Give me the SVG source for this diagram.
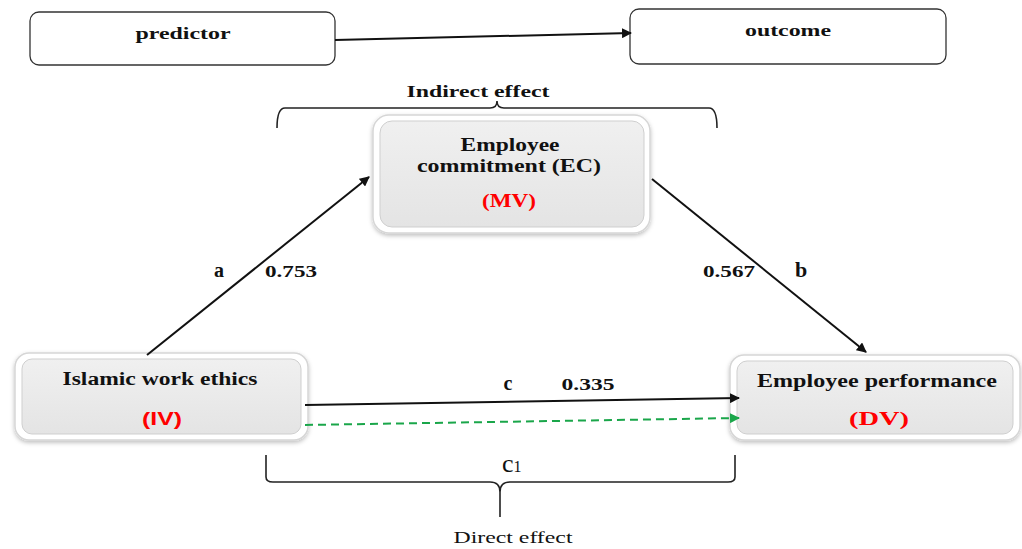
<svg xmlns="http://www.w3.org/2000/svg" width="1022" height="549" viewBox="0 0 1022 549">
<style>
.t{font-family:"Liberation Serif","Times New Roman",serif;font-weight:bold;fill:#111;text-anchor:middle}
.r{font-family:"Liberation Serif","Times New Roman",serif;font-weight:bold;fill:#ff0000;text-anchor:middle}
.n{font-family:"Liberation Serif","Times New Roman",serif;fill:#111;text-anchor:middle}
.box{fill:#fff;stroke:#333;stroke-width:1.3}
.outer{fill:#fff;stroke:#d6d6d6;stroke-width:1.5}
.inner{fill:url(#g);stroke:#cfcfcf;stroke-width:1}
.ln{stroke:#111;stroke-width:2;fill:none}
.br{stroke:#222;stroke-width:1.6;fill:none}
</style>
<defs>
<linearGradient id="g" x1="0" y1="0" x2="0" y2="1">
<stop offset="0" stop-color="#f0f0f0"/>
<stop offset="1" stop-color="#e4e4e4"/>
</linearGradient>
<filter id="sh" x="-10%" y="-10%" width="120%" height="130%">
<feDropShadow dx="0" dy="2" stdDeviation="2" flood-color="#000" flood-opacity="0.25"/>
</filter>
<marker id="ah" viewBox="0 0 10 10" refX="9" refY="5" markerWidth="5" markerHeight="5" orient="auto" markerUnits="strokeWidth">
<path d="M0,0 L10,5 L0,10 z" fill="#111"/>
</marker>
<marker id="ahg" viewBox="0 0 10 10" refX="9" refY="5" markerWidth="5" markerHeight="5" orient="auto" markerUnits="strokeWidth">
<path d="M0,0 L10,5 L0,10 z" fill="#1aa64a"/>
</marker>
</defs>
<rect width="1022" height="549" fill="#fff"/>

<g id="predictor">
<rect class="box" x="30" y="12" width="305" height="53" rx="9"/>
<text class="t" x="183" y="39" font-size="17" textLength="95" lengthAdjust="spacingAndGlyphs">predictor</text>
</g>
<g id="outcome">
<rect class="box" x="630" y="9" width="316" height="55" rx="9"/>
<text class="t" x="788" y="36" font-size="17" textLength="86" lengthAdjust="spacingAndGlyphs">outcome</text>
</g>

<g id="mv">
<rect class="outer" x="373" y="115" width="277" height="118" rx="16" filter="url(#sh)"/>
<rect class="inner" x="380" y="121" width="264" height="106" rx="12"/>
<text class="t" x="510" y="151" font-size="18" textLength="99" lengthAdjust="spacingAndGlyphs">Employee</text>
<text class="t" x="509" y="172" font-size="18" textLength="184" lengthAdjust="spacingAndGlyphs">commitment (EC)</text>
<text class="r" x="509" y="207" font-size="18" textLength="54" lengthAdjust="spacingAndGlyphs">(MV)</text>
</g>

<g id="iv">
<rect class="outer" x="15" y="353" width="293" height="87" rx="14" filter="url(#sh)"/>
<rect class="inner" x="22" y="359" width="279" height="75" rx="10"/>
<text class="t" x="160" y="385" font-size="18" textLength="195" lengthAdjust="spacingAndGlyphs">Islamic  work ethics</text>
<text x="162" y="425" font-size="18" font-family="Liberation Sans, Arial, sans-serif" font-weight="bold" fill="#ff0000" text-anchor="middle" textLength="40" lengthAdjust="spacingAndGlyphs">(IV)</text>
</g>

<g id="dv">
<rect class="outer" x="730" y="355" width="290" height="85" rx="14" filter="url(#sh)"/>
<rect class="inner" x="737" y="361" width="276" height="73" rx="10"/>
<text class="t" x="877" y="387" font-size="19" textLength="240" lengthAdjust="spacingAndGlyphs">Employee performance</text>
<text class="r" x="879" y="425" font-size="19" textLength="60" lengthAdjust="spacingAndGlyphs">(DV)</text>
</g>

<g id="connectors">
<line class="ln" x1="335" y1="40" x2="631" y2="33" marker-end="url(#ah)"/>
<line class="ln" x1="147" y1="355" x2="369" y2="177" marker-end="url(#ah)"/>
<line class="ln" x1="652" y1="179" x2="866" y2="352" marker-end="url(#ah)"/>
<line class="ln" x1="305" y1="405" x2="739" y2="398" marker-end="url(#ah)"/>
<line x1="305" y1="425" x2="739" y2="418" stroke="#1aa64a" stroke-width="2" stroke-dasharray="8,5" marker-end="url(#ahg)"/>
</g>

<g id="labels">
<text class="t" x="219" y="277" font-size="20">a</text>
<text class="t" x="291" y="277" font-size="17" textLength="52" lengthAdjust="spacingAndGlyphs">0.753</text>
<text class="t" x="729" y="277" font-size="17" textLength="52" lengthAdjust="spacingAndGlyphs">0.567</text>
<text class="t" x="801" y="277" font-size="22">b</text>
<text class="t" x="508" y="390" font-size="20">c</text>
<text class="t" x="588" y="390" font-size="17" textLength="53" lengthAdjust="spacingAndGlyphs">0.335</text>
</g>

<g id="indirect">
<text class="t" x="478" y="97" font-size="17" textLength="143" lengthAdjust="spacingAndGlyphs">Indirect effect</text>
<path class="br" d="M277,128 Q277,108 285,108 L490,108 Q497,108 497,101 Q497,108 504,108 L709,108 Q717,108 717,128"/>
</g>

<g id="direct">
<path class="br" d="M266,455 L266,477 Q266,482 273,482 L490,482 Q500,482 500,492 L500,517 M500,492 Q500,482 510,482 L728,482 Q735,482 735,477 L735,455" stroke-width="2"/>
<text x="502" y="472" font-size="26" font-family="Liberation Serif, Times New Roman, serif" fill="#111">c<tspan font-size="16">1</tspan></text>
<text class="n" x="513" y="543" font-size="17" textLength="119" lengthAdjust="spacingAndGlyphs">Direct effect</text>
</g>
</svg>
